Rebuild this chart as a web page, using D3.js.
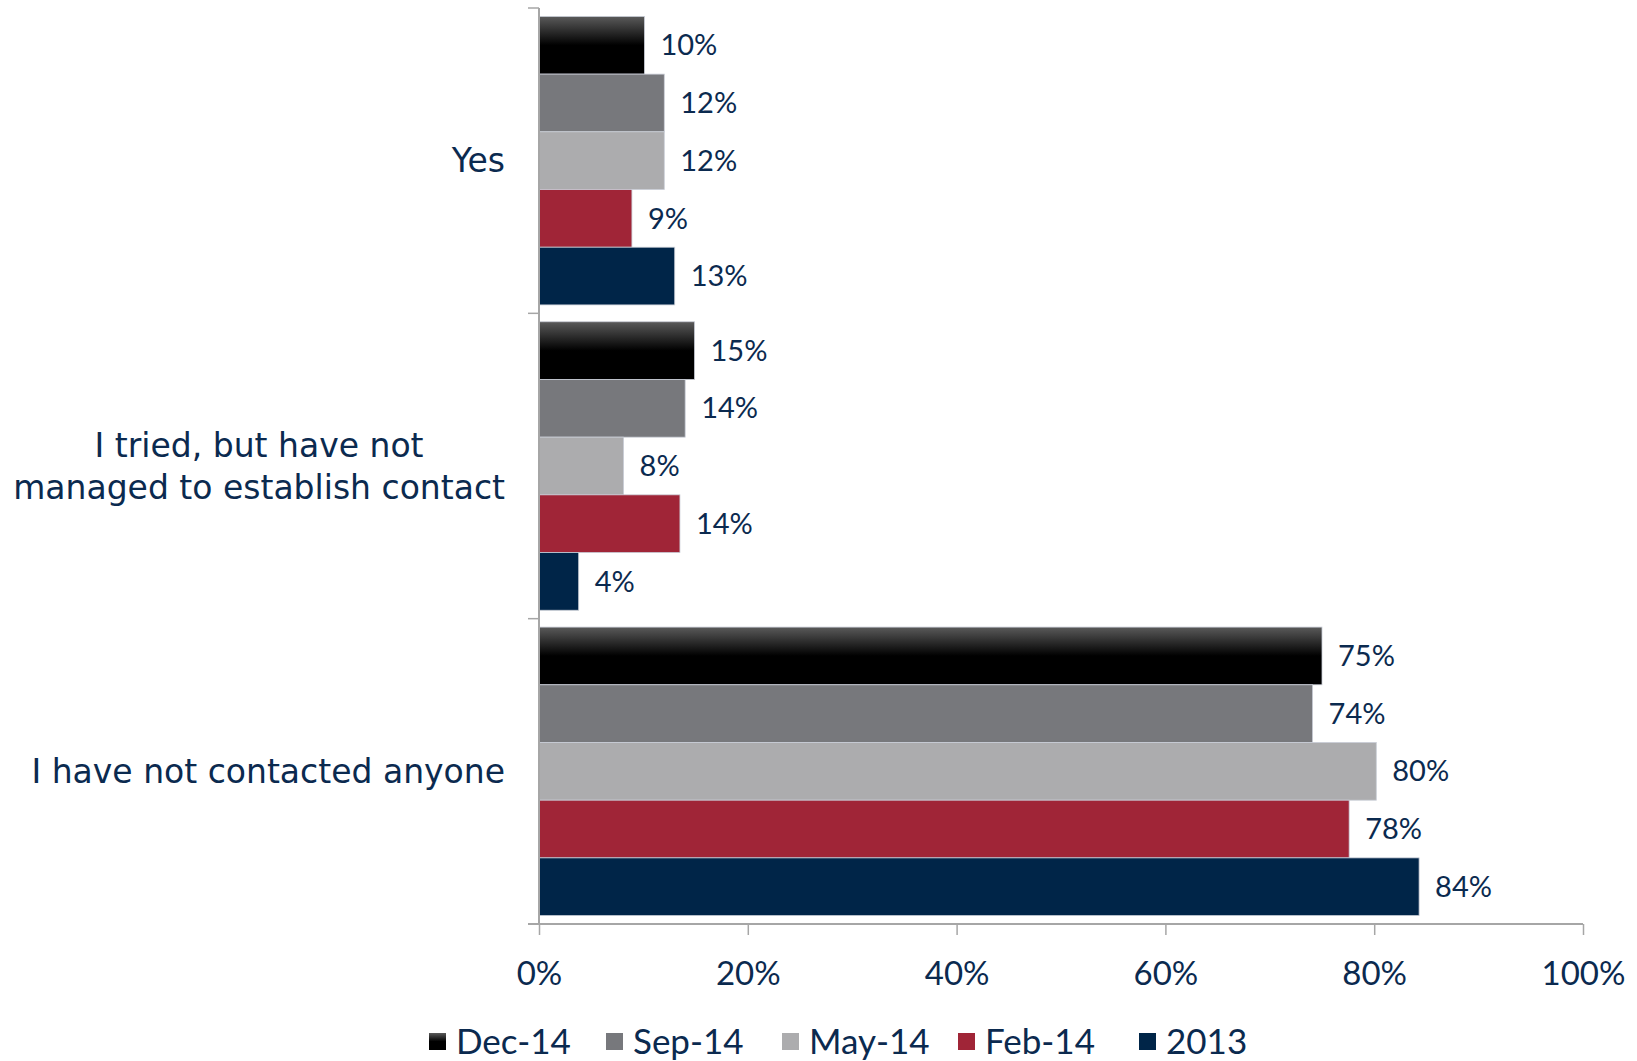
<!DOCTYPE html>
<html>
<head>
<meta charset="utf-8">
<script src="https://cdn.jsdelivr.net/npm/d3@7"></script>
<style>
  html, body { margin: 0; padding: 0; background: #ffffff; }
  svg { display: block; }
  text { font-family: "Lato", "Open Sans", sans-serif; fill: #0b2a4f; }
</style>
</head>
<body>
<svg id="chart" width="1637" height="1061"></svg>
<script>
const categories = ["Yes", "I tried, but have not\nmanaged to establish contact", "I have not contacted anyone"];
const seriesNames = ["Dec-14", "Sep-14", "May-14", "Feb-14", "2013"];
const dec14 = [10.1, 14.9, 75.0];
const sep14 = [12.0, 14.0, 74.1];
const may14 = [12.0, 8.1, 80.2];
const feb14 = [8.9, 13.5, 77.6];
const y2013 = [13.0, 3.8, 84.3];
const xTicks = [0, 20, 40, 60, 80, 100];

const seriesValues = [dec14, sep14, may14, feb14, y2013];
const colors = ["url(#gradDec)", "#77787c", "#acacae", "#a02537", "#002548"];

const svg = d3.select("#chart");
const margin = { left: 539, right: 54, top: 8, bottom: 137 };
const W = 1637, H = 1061;
const plotRight = W - margin.right;
const plotBottom = H - margin.bottom;

const defs = svg.append("defs");
const grad = defs.append("linearGradient").attr("id", "gradDec")
  .attr("x1", 0).attr("y1", 0).attr("x2", 0).attr("y2", 1);
grad.append("stop").attr("offset", "0%").attr("stop-color", "#5a5a5a");
grad.append("stop").attr("offset", "50%").attr("stop-color", "#000000");
grad.append("stop").attr("offset", "100%").attr("stop-color", "#000000");

const x = d3.scaleLinear().domain([0, 100]).range([margin.left, plotRight]);
const y0 = d3.scaleBand().domain(categories).range([margin.top, plotBottom]).padding(0);
const y1 = d3.scaleBand().domain(seriesNames).range([0, y0.bandwidth()]).paddingInner(0).paddingOuter(0.146);

// bars
const groups = svg.append("g").selectAll("g")
  .data(categories).join("g")
  .attr("transform", d => `translate(0,${y0(d)})`);

groups.each(function(cat, ci) {
  const g = d3.select(this);
  seriesNames.forEach((s, si) => {
    const v = seriesValues[si][ci];
    g.append("rect")
      .attr("x", x(0))
      .attr("y", y1(s))
      .attr("width", x(v) - x(0))
      .attr("height", y1.bandwidth())
      .attr("fill", colors[si])
      .attr("stroke", "#c9cdd6")
      .attr("stroke-width", 0.8);
    g.append("text")
      .attr("x", x(v) + 16)
      .attr("y", y1(s) + y1.bandwidth() / 2)
      .attr("dy", "0.35em")
      .attr("font-size", 29)
      .text(Math.round(v) + "%");
  });
});

// x axis
const xAxis = d3.axisBottom(x).tickValues(xTicks).tickSize(11).tickFormat(d => d + "%");
const gx = svg.append("g").attr("transform", `translate(0,${plotBottom})`).call(xAxis);
gx.select(".domain").attr("stroke", "#a6a6a6").attr("stroke-width", 2)
  .attr("d", `M${margin.left - 11},0H${plotRight}`);
gx.selectAll(".tick line").attr("stroke", "#a6a6a6").attr("stroke-width", 1.5);
gx.selectAll(".tick text").attr("font-size", 33).attr("y", 49).attr("dy", "0.35em")
  .attr("fill", "#0b2a4f");

// y axis (line + boundary ticks)
const gy = svg.append("g");
gy.append("line").attr("x1", margin.left).attr("x2", margin.left)
  .attr("y1", margin.top).attr("y2", plotBottom)
  .attr("stroke", "#a6a6a6").attr("stroke-width", 2);
const boundaries = categories.map(c => y0(c)).concat([plotBottom]);
gy.selectAll("line.b").data(boundaries).join("line").attr("class", "b")
  .attr("x1", margin.left - 11).attr("x2", margin.left)
  .attr("y1", d => d).attr("y2", d => d)
  .attr("stroke", "#a6a6a6").attr("stroke-width", 1.5);

// category labels
const labelRight = 505;
const lineH = 42;
categories.forEach(c => {
  const lines = c.split("\n");
  const t = svg.append("text").attr("font-size", 33).style("font-family", "'DejaVu Sans', sans-serif");
  const cy = y0(c) + y0.bandwidth() / 2;
  const spans = lines.map((ln, i) => t.append("tspan")
    .attr("y", cy + (i - (lines.length - 1) / 2) * lineH)
    .attr("dy", "0.35em")
    .text(ln));
  const widths = spans.map(sp => sp.node().getComputedTextLength());
  const maxW = d3.max(widths);
  const centerX = labelRight - maxW / 2;
  spans.forEach(sp => sp.attr("x", centerX).attr("text-anchor", "middle"));
});

// legend
const legendY = 1042;
const legendStarts = [429, 606, 782, 958, 1139];
const lg = svg.append("g");
seriesNames.forEach((s, i) => {
  lg.append("rect").attr("x", legendStarts[i]).attr("y", legendY - 9)
    .attr("width", 17).attr("height", 17).attr("fill", colors[i]);
  lg.append("text").attr("x", legendStarts[i] + 27).attr("y", legendY)
    .attr("dy", "0.35em").attr("font-size", 35).text(s);
});
</script>
</body>
</html>
